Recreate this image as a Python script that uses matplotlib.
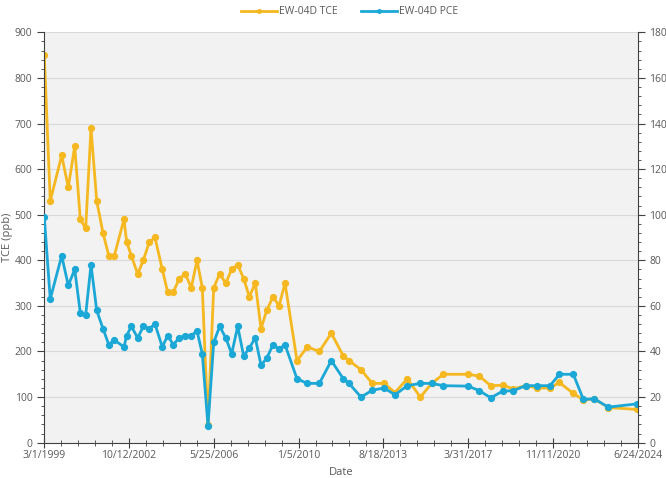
import datetime as dt
import matplotlib
matplotlib.use("Agg")
import matplotlib.pyplot as plt
import matplotlib.dates as mdates
from matplotlib.ticker import FixedLocator, MultipleLocator, FuncFormatter

# sample dates
dates = ["1999-03-01", "1999-06-02", "1999-11-27", "2000-03-09", "2000-06-17",
         "2000-09-12", "2000-12-05", "2001-02-26", "2001-05-26", "2001-09-01",
         "2001-11-30", "2002-02-24", "2002-07-25", "2002-09-05", "2002-11-16",
         "2003-02-24", "2003-05-22", "2003-08-23", "2003-11-20", "2004-03-13",
         "2004-06-05", "2004-08-31", "2004-12-03", "2005-03-06", "2005-06-08",
         "2005-09-05", "2005-11-26", "2006-02-23", "2006-05-23", "2006-08-24",
         "2006-11-26", "2007-02-27", "2007-06-01", "2007-09-02", "2007-11-29",
         "2008-03-01", "2008-05-29", "2008-08-26", "2008-12-02", "2009-03-06",
         "2009-06-07", "2009-12-11", "2010-05-21", "2010-11-24", "2011-05-30",
         "2011-12-03", "2012-03-01", "2012-09-03", "2013-02-26", "2013-08-28",
         "2014-02-15", "2014-08-26", "2015-03-17", "2015-09-10", "2016-03-09",
         "2017-04-03", "2017-09-21", "2018-03-18", "2018-09-21", "2019-03-05",
         "2019-09-14", "2020-03-03", "2020-09-27", "2021-02-19", "2021-09-25",
         "2022-02-28", "2022-08-18", "2023-03-24", "2024-06-09"]

tce = [850, 530, 630, 560, 650, 490, 470, 690, 530, 460,
       410, 410, 490, 440, 410, 370, 400, 440, 450, 380,
       330, 330, 360, 370, 340, 400, 340, 38, 340, 370,
       350, 380, 390, 360, 320, 350, 250, 290, 320, 300,
       350, 180, 210, 200, 240, 190, 180, 160, 130, 130,
       110, 140, 100, 130, 150, 150, 146, 125, 126, 118,
       125, 120, 120, 132, 108, 94, 96, 77, 73]

pce = [99, 63, 82, 69, 76, 57, 56, 78, 58, 50,
       43, 45, 42, 47, 51, 46, 51, 50, 52, 42,
       47, 43, 46, 47, 47, 49, 39, 7.4, 44, 51,
       46, 39, 51, 38, 41.5, 46, 34, 37, 43, 41,
       43, 28, 26, 26, 36, 28, 26, 20, 23, 24,
       21, 25, 26, 26, 25, 24.8, 22.8, 19.7, 22.6, 22.8,
       25, 25, 25, 30, 30, 19, 19.2, 15.6, 17]

x_start = dt.date(1999, 3, 1)
x_end = dt.date(2024, 6, 24)
tick_step = 1321  # days between date labels

x = [dt.datetime.strptime(d, "%Y-%m-%d") for d in dates]

c_tce = "#f5b820"
c_pce = "#1ba8d6"
txt = "#595959"

plt.rcParams["font.family"] = ["Open Sans", "DejaVu Sans"]

fig = plt.figure(figsize=(6.66, 4.78), dpi=100)
ax = fig.add_axes([0.0665, 0.0739, 0.891, 0.8585])
ax.set_facecolor("#f2f2f2")
ax2 = ax.twinx()

l1, = ax.plot(x, tce, color=c_tce, lw=2, marker="o", ms=4.2, label="EW-04D TCE")
l2, = ax2.plot(x, pce, color=c_pce, lw=2, marker="o", ms=4.2, label="EW-04D PCE")

ax.set_ylim(0, 900)
ax2.set_ylim(0, 180)
ax.yaxis.set_major_locator(MultipleLocator(100))
ax.yaxis.set_minor_locator(MultipleLocator(20))
ax2.yaxis.set_major_locator(MultipleLocator(20))
ax2.yaxis.set_minor_locator(MultipleLocator(4))

ticks = [x_start + dt.timedelta(days=tick_step * k) for k in range(8)]
minor = [x_start + dt.timedelta(days=tick_step * k / 5) for k in range(36)]
ax.set_xlim(mdates.date2num(x_start), mdates.date2num(x_end))
ax.xaxis.set_major_locator(FixedLocator(mdates.date2num(ticks)))
ax.xaxis.set_minor_locator(FixedLocator(mdates.date2num(minor)))
ax.xaxis.set_major_formatter(FuncFormatter(
    lambda v, p: "{d.month}/{d.day}/{d.year}".format(d=mdates.num2date(v))))

ax.grid(axis="y", color="#d9d9d9", lw=0.8)
ax.set_axisbelow(True)

for a in (ax, ax2):
    a.spines["top"].set_visible(False)
    for s in ("left", "right", "bottom"):
        a.spines[s].set_color("#404040")
ax2.spines["bottom"].set_visible(False)
ax2.spines["left"].set_visible(False)
ax.spines["right"].set_visible(False)

for a in (ax, ax2):
    a.tick_params(axis="y", which="major", length=5, color="#404040", labelsize=7.5, labelcolor=txt)
    a.tick_params(axis="y", which="minor", length=2.5, color="#404040")
ax.tick_params(axis="x", which="major", direction="inout", length=7, color="#404040",
               labelsize=7.5, labelcolor=txt, pad=2)
ax.tick_params(axis="x", which="minor", direction="inout", length=4, color="#404040")

ax.set_xlabel("Date", fontsize=8, color=txt)
ax.set_ylabel("TCE (ppb)", fontsize=8, color=txt)
ax.xaxis.set_label_coords(0.5, -0.06)
ax.yaxis.set_label_coords(-0.052, 0.5)

fig.legend(handles=[l1, l2], loc="center", bbox_to_anchor=(0.525, 0.975), ncol=2,
           frameon=False, fontsize=7.5, labelcolor=txt, handlelength=3.5,
           columnspacing=2.2, handletextpad=0.2, markerscale=0.6)

fig.savefig("out.png", dpi=100)
